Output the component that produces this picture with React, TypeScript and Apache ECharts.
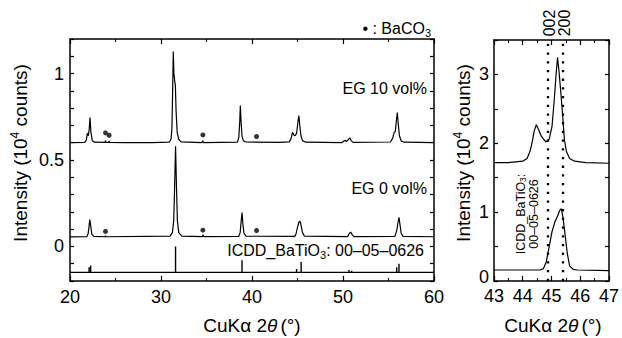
import React, { useEffect, useRef } from 'react';
import * as echarts from 'echarts';

const FONT = 'Liberation Sans, Arial, sans-serif';

// Left panel: full pattern (2θ, intensity ×10^4 counts), EG 10 vol% (offset) and EG 0 vol%
const eg10Pattern: [number, number][] = [
  [20, 0.6], [21.6, 0.602], [21.8, 0.615], [21.9, 0.655], [22.0, 0.64], [22.1, 0.67], [22.2, 0.745], [22.3, 0.66],
  [22.45, 0.612], [22.7, 0.603], [23.85, 0.602], [23.9, 0.612], [23.95, 0.602], [24.25, 0.602], [24.3, 0.61],
  [24.35, 0.602], [26, 0.6], [29, 0.601], [30.9, 0.603], [31.1, 0.62], [31.2, 0.68], [31.28, 0.9], [31.35, 1.127],
  [31.42, 1.0], [31.5, 0.96], [31.58, 0.93], [31.66, 0.78], [31.78, 0.66], [31.95, 0.62], [32.2, 0.605],
  [34.5, 0.601], [34.58, 0.612], [34.66, 0.601], [38.4, 0.603], [38.55, 0.63], [38.65, 0.72], [38.72, 0.815],
  [38.8, 0.72], [38.9, 0.64], [39.05, 0.612], [39.3, 0.604], [43, 0.602], [44.1, 0.605], [44.3, 0.625],
  [44.45, 0.66], [44.6, 0.645], [44.75, 0.64], [44.9, 0.655], [45.05, 0.72], [45.15, 0.757], [45.25, 0.7],
  [45.38, 0.64], [45.55, 0.612], [45.9, 0.603], [49.9, 0.601], [50.1, 0.61], [50.25, 0.614], [50.35, 0.607],
  [50.55, 0.616], [50.75, 0.628], [50.9, 0.612], [51.1, 0.602], [55.2, 0.604], [55.45, 0.625], [55.62, 0.658],
  [55.75, 0.665], [55.85, 0.72], [55.97, 0.775], [56.07, 0.71], [56.2, 0.64], [56.4, 0.61], [56.7, 0.603],
  [60, 0.601],
];

const eg0Pattern: [number, number][] = [
  [20, 0.055], [21.85, 0.057], [22.0, 0.075], [22.1, 0.12], [22.18, 0.156], [22.27, 0.12], [22.4, 0.07],
  [22.6, 0.058], [23.85, 0.056], [23.9, 0.062], [23.95, 0.056], [31.0, 0.06], [31.25, 0.08], [31.4, 0.15],
  [31.5, 0.35], [31.6, 0.58], [31.7, 0.35], [31.8, 0.15], [31.95, 0.08], [32.3, 0.06], [34.55, 0.057],
  [34.62, 0.068], [34.7, 0.057], [38.55, 0.058], [38.7, 0.08], [38.8, 0.14], [38.9, 0.196], [39.0, 0.13],
  [39.12, 0.075], [39.35, 0.059], [44.7, 0.058], [44.85, 0.075], [45.0, 0.11], [45.15, 0.14], [45.28, 0.146],
  [45.4, 0.12], [45.55, 0.08], [45.75, 0.06], [50.5, 0.057], [50.7, 0.075], [50.85, 0.083], [51.0, 0.068],
  [51.2, 0.057], [55.7, 0.058], [55.9, 0.09], [56.05, 0.14], [56.15, 0.168], [56.25, 0.13], [56.4, 0.075],
  [56.6, 0.058], [60, 0.056],
];

// ICDD BaTiO3 00-05-0626 reference sticks: [2θ, top of stick]
const icddBase = -0.15;
const icddSticks: [number, number][] = [
  [22.1, -0.12], [22.27, -0.11], [31.6, 0], [38.9, -0.08], [44.9, -0.13], [45.4, -0.09],
  [50.66, -0.137], [50.95, -0.14], [55.9, -0.12], [56.15, -0.1],
];

// BaCO3 markers
const baco3Eg10: [number, number][] = [[23.9, 0.657], [24.3, 0.643], [34.6, 0.645], [40.5, 0.636]];
const baco3Eg0: [number, number][] = [[23.9, 0.087], [34.6, 0.094], [40.5, 0.092]];

// Right panel: 43–47° detail
const zoomEg10: [number, number][] = [
  [43, 1.72], [43.5, 1.72], [44.0, 1.74], [44.15, 1.78], [44.25, 1.88], [44.33, 2.02], [44.4, 2.18],
  [44.47, 2.27], [44.55, 2.2], [44.65, 2.1], [44.8, 2.02], [44.92, 2.06], [45.02, 2.25], [45.1, 2.65],
  [45.16, 3.0], [45.21, 3.25], [45.26, 3.05], [45.32, 2.76], [45.38, 2.45], [45.45, 2.05], [45.52, 1.88],
  [45.63, 1.78], [45.8, 1.74], [46.2, 1.72], [47, 1.71],
];
const zoomEg0: [number, number][] = [
  [43, 0.16], [44.6, 0.16], [44.72, 0.18], [44.82, 0.28], [44.92, 0.5], [45.02, 0.72], [45.12, 0.86],
  [45.22, 0.95], [45.28, 1.02], [45.34, 1.05], [45.4, 0.92], [45.47, 0.68], [45.55, 0.4], [45.63, 0.22],
  [45.75, 0.17], [45.9, 0.16], [47, 0.15],
];
const hklPositions = [44.87, 45.4];
const hklLabels = ['002', '200'];

export default function App() {
  const ref = useRef<HTMLDivElement>(null);
  useEffect(() => {
    if (!ref.current) return;
    const chart = echarts.init(ref.current, undefined, { renderer: 'svg' });

    const stickLine: [number, number][] = [[20, icddBase]];
    icddSticks.forEach(([x, top]) => {
      stickLine.push([x, icddBase], [x, top], [x, icddBase]);
    });
    stickLine.push([60, icddBase]);

    const axLine = { show: true, onZero: false, lineStyle: { color: '#000', width: 1.5 } };
    const tick = (len: number) => ({ show: true, inside: true, length: len, lineStyle: { color: '#000', width: 1.2 } });
    const minor = { show: true, splitNumber: 2, length: 3, lineStyle: { color: '#000', width: 1 } };
    const lbl = (extra: any = {}) => ({ fontSize: 18, color: '#000', fontFamily: FONT, ...extra });

    const xBase = (grid: number, min: number, max: number, interval: number, pos: 'top' | 'bottom', margin: number) => ({
      type: 'value', gridIndex: grid, min, max, interval, position: pos,
      axisLine: axLine, axisTick: tick(5), minorTick: minor,
      splitLine: { show: false }, minorSplitLine: { show: false },
      axisLabel: pos === 'bottom' ? lbl({ margin }) : { show: false },
    });

    const leftFmt = (v: number) => {
      const r = Math.round(v * 10) / 10;
      if (Math.abs(r) < 1e-9) return '0';
      if (Math.abs(r - 0.5) < 1e-9) return '0.5';
      if (Math.abs(r - 1) < 1e-9) return '1';
      return '';
    };
    const rightFmt = (v: number) => {
      const r = Math.round(v * 2) / 2;
      if (Math.abs(r) < 1e-9) return '{z|0}';
      return Math.abs(r - Math.round(r)) < 1e-9 ? String(Math.round(r)) : '';
    };

    const lineS = (data: any, xi: number, yi: number, w = 1.2) => ({
      type: 'line', xAxisIndex: xi, yAxisIndex: yi, data, showSymbol: false, symbol: 'none',
      lineStyle: { color: '#000', width: w }, silent: true,
    });

    const rich = {
      a: { fontSize: 19, fontFamily: FONT, fill: '#000', lineHeight: 22, verticalAlign: 'middle' },
      sup: { fontSize: 12, fontFamily: FONT, fill: '#000', lineHeight: 12, verticalAlign: 'top' },
      i: { fontSize: 19, fontFamily: FONT, fill: '#000', fontStyle: 'italic', lineHeight: 22, verticalAlign: 'middle', padding: [0, 3, 0, 0] },
    };
    const rich16 = {
      a: { fontSize: 16, fontFamily: FONT, fill: '#000', lineHeight: 20, verticalAlign: 'middle' },
      s: { fontSize: 11, fontFamily: FONT, fill: '#000', lineHeight: 11, verticalAlign: 'bottom' },
    };
    const rich12 = {
      a: { fontSize: 12.5, fontFamily: FONT, fill: '#000', lineHeight: 13, verticalAlign: 'middle' },
      s: { fontSize: 8.5, fontFamily: FONT, fill: '#000', lineHeight: 8, verticalAlign: 'bottom' },
    };

    const option: any = {
      animation: false,
      grid: [
        { left: 70, top: 39, width: 364, height: 242 },
        { left: 494, top: 40, width: 118, height: 241 },
      ],
      xAxis: [
        xBase(0, 20, 60, 10, 'bottom', 7),
        xBase(0, 20, 60, 10, 'top', 7),
        xBase(1, 43, 47, 1, 'bottom', 6),
        xBase(1, 43, 47, 1, 'top', 6),
      ],
      yAxis: [
        { type: 'value', gridIndex: 0, min: -0.2, max: 1.2, interval: 0.1, position: 'left', axisLine: axLine,
          axisTick: tick(4), splitLine: { show: false }, axisLabel: lbl({ margin: 6, formatter: leftFmt }) },
        { type: 'value', gridIndex: 0, min: -0.2, max: 1.2, interval: 0.1, position: 'right', axisLine: axLine,
          axisTick: tick(4), splitLine: { show: false }, axisLabel: { show: false } },
        { type: 'value', gridIndex: 1, min: 0, max: 3.5, interval: 0.5, position: 'left', axisLine: axLine,
          axisTick: tick(4), splitLine: { show: false },
          axisLabel: lbl({ margin: 5, formatter: rightFmt,
            rich: { z: { fontSize: 18, color: '#000', fontFamily: FONT, padding: [0, 0, 8, 0] } } }) },
        { type: 'value', gridIndex: 1, min: 0, max: 3.5, interval: 0.5, position: 'right', axisLine: axLine,
          axisTick: tick(4), splitLine: { show: false }, axisLabel: { show: false } },
      ],
      series: [
        lineS(eg10Pattern, 0, 0),
        lineS(eg0Pattern, 0, 0),
        lineS(stickLine, 0, 0, 1.4),
        { type: 'scatter', xAxisIndex: 0, yAxisIndex: 0, data: [...baco3Eg10, ...baco3Eg0], symbol: 'circle',
          symbolSize: 5, itemStyle: { color: '#000' }, silent: true },
        {
          ...lineS(zoomEg10, 2, 2),
          markLine: {
            silent: true, symbol: ['none', 'none'], label: { show: false },
            lineStyle: { color: '#000', type: [2.3, 6.4], width: 2.3 },
            data: hklPositions.map((x) => ({ xAxis: x })),
          },
        },
        lineS(zoomEg0, 2, 2),
      ],
      graphic: [
        { type: 'text', x: 427, y: 88, style: { text: 'EG 10 vol%', fontSize: 16, fontFamily: FONT, fill: '#000', align: 'right', verticalAlign: 'middle' } },
        { type: 'text', x: 427, y: 188, style: { text: 'EG 0 vol%', fontSize: 16, fontFamily: FONT, fill: '#000', align: 'right', verticalAlign: 'middle' } },
        { type: 'text', x: 424, y: 250, style: { text: '{a|ICDD_BaTiO}{s|3}{a|: 00–05–0626}', rich: rich16, align: 'right', verticalAlign: 'middle' } },
        { type: 'text', x: 431, y: 28, style: { text: '{a|• : BaCO}{s|3}', rich: rich16, align: 'right', verticalAlign: 'middle' } },
        ...hklPositions.map((x, i) => ({
          type: 'text', x: 494 + (x - 43) * (118 / 4), y: 23, rotation: Math.PI / 2,
          style: { text: hklLabels[i], fontSize: 16, fontFamily: FONT, fill: '#000', align: 'center', verticalAlign: 'middle' },
        })),
        { type: 'text', x: 527, y: 214, rotation: Math.PI / 2,
          style: { text: '{a|ICDD_BaTiO}{s|3}{a|:}\n{a|00–05–0626}', rich: rich12, align: 'center', verticalAlign: 'middle' } },
        { type: 'text', x: 20, y: 153, rotation: Math.PI / 2,
          style: { text: '{a|Intensity (10}{sup|4}{a| counts)}', rich, align: 'center', verticalAlign: 'middle' } },
        { type: 'text', x: 463, y: 153, rotation: Math.PI / 2,
          style: { text: '{a|Intensity (10}{sup|4}{a| counts)}', rich, align: 'center', verticalAlign: 'middle' } },
        { type: 'text', x: 252, y: 325,
          style: { text: '{a|CuKα 2}{i|θ}{a|(°)}', rich, align: 'center', verticalAlign: 'middle' } },
        { type: 'text', x: 553, y: 325,
          style: { text: '{a|CuKα 2}{i|θ}{a|(°)}', rich, align: 'center', verticalAlign: 'middle' } },
      ],
    };
    chart.setOption(option);
    return () => chart.dispose();
  }, []);

  return (
    <div
      ref={ref}
      style={{ position: 'absolute', left: 0, top: 0, width: 622, height: 338, background: '#fff' }}
    />
  );
}
